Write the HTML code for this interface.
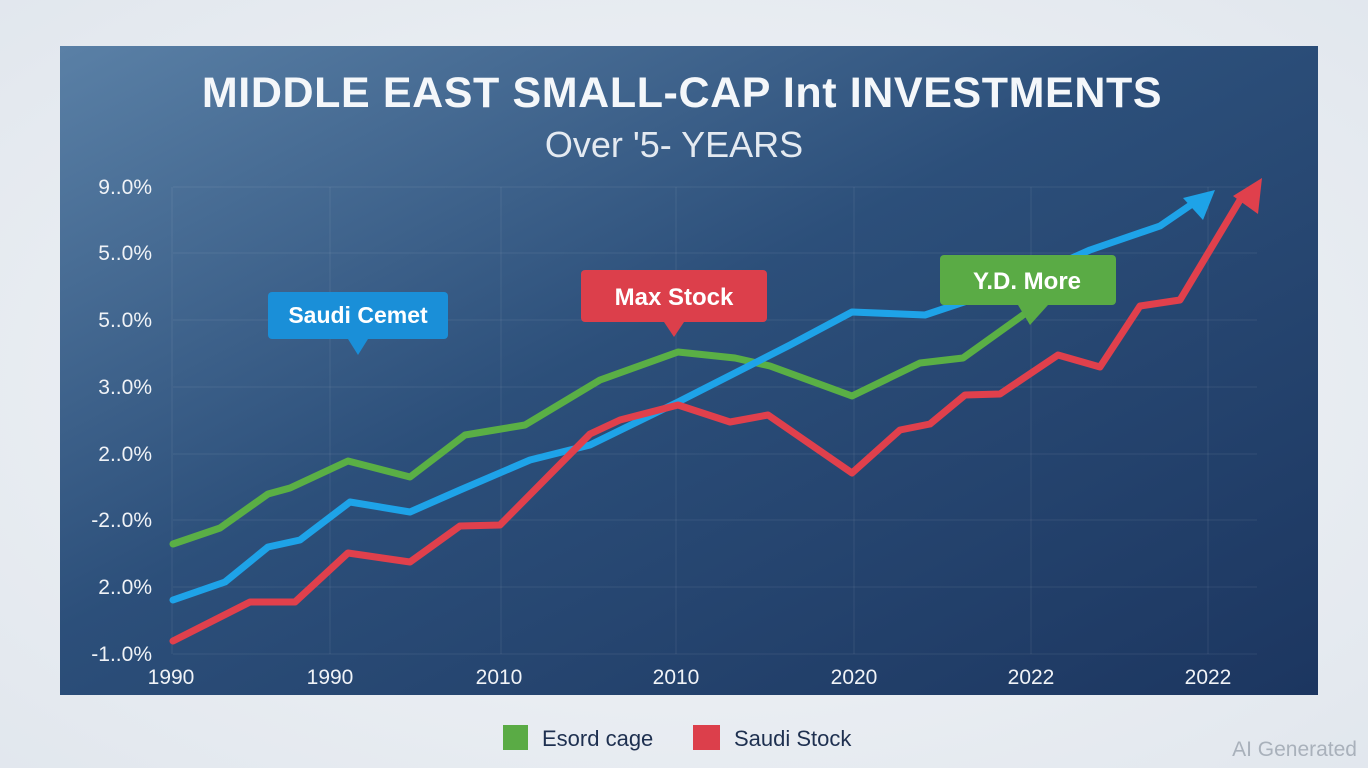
<!DOCTYPE html>
<html><head><meta charset="utf-8"><style>
html,body{margin:0;padding:0;width:1368px;height:768px;overflow:hidden;background:#edf1f5;font-family:"Liberation Sans",sans-serif}
</style></head><body>
<svg width="1368" height="768" viewBox="0 0 1368 768" xmlns="http://www.w3.org/2000/svg">
<defs>
<linearGradient id="bg" x1="0" y1="0" x2="1" y2="1">
<stop offset="0" stop-color="#5a80a6"/><stop offset="0.45" stop-color="#2c4f7a"/><stop offset="1" stop-color="#1c3660"/>
</linearGradient>
<radialGradient id="outer" cx="0.5" cy="0.5" r="0.8"><stop offset="0" stop-color="#f4f6f9"/><stop offset="1" stop-color="#dfe5ec"/></radialGradient>
</defs>
<rect width="1368" height="768" fill="url(#outer)"/>
<rect x="60" y="46" width="1258" height="649" fill="url(#bg)"/>
<g stroke="#ffffff" stroke-opacity="0.08" stroke-width="1">
<line x1="173" y1="187" x2="1257" y2="187"/><line x1="173" y1="253" x2="1257" y2="253"/>
<line x1="173" y1="320" x2="1257" y2="320"/><line x1="173" y1="387" x2="1257" y2="387"/>
<line x1="173" y1="454" x2="1257" y2="454"/><line x1="173" y1="520" x2="1257" y2="520"/>
<line x1="173" y1="587" x2="1257" y2="587"/><line x1="173" y1="654" x2="1257" y2="654"/>
<line x1="172" y1="187" x2="172" y2="654"/><line x1="330" y1="187" x2="330" y2="654"/>
<line x1="501" y1="187" x2="501" y2="654"/><line x1="676" y1="187" x2="676" y2="654"/>
<line x1="854" y1="187" x2="854" y2="654"/><line x1="1031" y1="187" x2="1031" y2="654"/>
<line x1="1208" y1="187" x2="1208" y2="654"/>
</g>
<text x="682" y="107" text-anchor="middle" font-size="43" font-weight="bold" letter-spacing="0.6" fill="#f4f7fa">MIDDLE EAST SMALL-CAP Int INVESTMENTS</text>
<text x="674" y="157" text-anchor="middle" font-size="36" fill="#e4eaf1">Over '5- YEARS</text>
<g font-size="21" fill="#f0f3f7" text-anchor="end">
<text x="152" y="194">9..0%</text><text x="152" y="260">5..0%</text><text x="152" y="327">5..0%</text>
<text x="152" y="394">3..0%</text><text x="152" y="461">2..0%</text><text x="152" y="527">-2..0%</text>
<text x="152" y="594">2..0%</text><text x="152" y="661">-1..0%</text>
</g>
<g font-size="21" fill="#f0f3f7" text-anchor="middle">
<text x="171" y="684">1990</text><text x="330" y="684">1990</text><text x="499" y="684">2010</text>
<text x="676" y="684">2010</text><text x="854" y="684">2020</text><text x="1031" y="684">2022</text><text x="1208" y="684">2022</text>
</g>
<g fill="none" stroke-width="7" stroke-linejoin="round" stroke-linecap="round">
<polyline stroke="#5aaf45" points="173,544 220,528 268,494 290,488 348,461 410,477 465,435 495,430 525,425 580,392 600,380 678,352 735,358 770,366 852,396 920,363 963,358 1030,310 1050,298"/>
<polyline stroke="#1ea3e8" points="173,600 225,582 268,547 300,540 350,502 410,512 460,490 530,460 590,445 678,402 790,345 852,312 925,315 1000,290 1090,250 1160,226 1198,200"/>
<polyline stroke="#e0404c" points="173,641 250,602 295,602 348,553 410,562 460,526 500,525 590,434 620,420 678,405 730,422 768,415 852,473 900,430 930,424 965,395 1000,394 1058,355 1100,367 1140,306 1180,300 1243,195"/>
</g>
<polygon points="1215,190 1183,198 1203,220" fill="#1ea3e8"/>
<polygon points="1262,178 1233,196 1258,214" fill="#e0404c"/>
<rect x="268" y="292" width="180" height="47" rx="4" fill="#1a8fd8"/>
<polygon points="348,339 368,339 358,355" fill="#1a8fd8"/>
<text x="358" y="323" text-anchor="middle" font-size="23" font-weight="bold" fill="#fff">Saudi Cemet</text>
<rect x="581" y="270" width="186" height="52" rx="4" fill="#dc3f4b"/>
<polygon points="664,322 684,322 674,337" fill="#dc3f4b"/>
<text x="674" y="305" text-anchor="middle" font-size="24" font-weight="bold" fill="#fff">Max Stock</text>
<rect x="940" y="255" width="176" height="50" rx="4" fill="#5aab45"/>
<polygon points="1018,305 1048,305 1030,325" fill="#5aab45"/>
<text x="1027" y="289" text-anchor="middle" font-size="24" font-weight="bold" fill="#fff">Y.D. More</text>
<rect x="503" y="725" width="25" height="25" fill="#5aab45"/>
<text x="542" y="746" font-size="22" fill="#1e3050">Esord cage</text>
<rect x="693" y="725" width="27" height="25" fill="#dc3f4b"/>
<text x="734" y="746" font-size="22" fill="#1e3050">Saudi Stock</text>
<text x="1357" y="756" text-anchor="end" font-size="21" fill="#a9b1bb">AI Generated</text>
</svg>
</body></html>
